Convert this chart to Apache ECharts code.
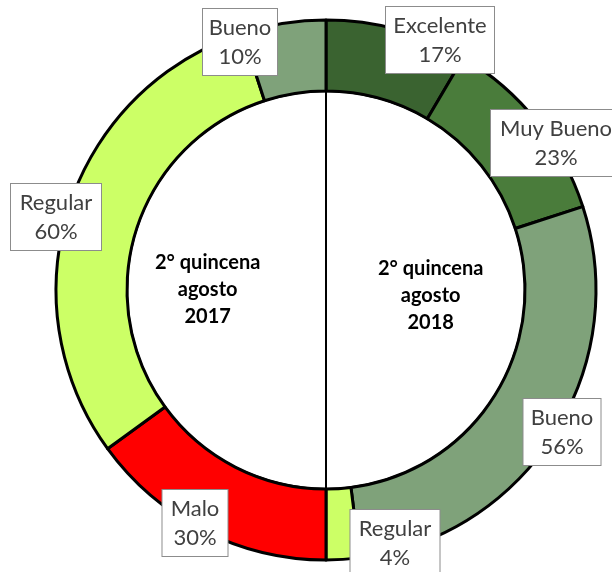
<!DOCTYPE html>
<html>
<head>
<meta charset="utf-8">
<script src="https://cdn.jsdelivr.net/npm/echarts@6/dist/echarts.min.js"></script>
<style>
  html, body { margin: 0; padding: 0; background: #fff; }
  #chart { width: 612px; height: 572px; }
</style>
</head>
<body>
<div id="chart"></div>
<script>
  // 2018 goes on the right half (clockwise from the top), 2017 on the left half
  const categories2018 = ['Excelente', 'Muy Bueno', 'Bueno', 'Regular']
  const values2018 = [17, 23, 56, 4]
  const categories2017 = ['Malo', 'Regular', 'Bueno']
  const values2017 = [30, 60, 10]
  const periodLabels = ['2° quincena\nagosto\n2017', '2° quincena\nagosto\n2018']

  const colorMap = {
    'Excelente': '#3a6330',
    'Muy Bueno': '#4a7c3b',
    'Bueno': '#7fa27a',
    'Regular': '#ccff66',
    'Malo': '#ff0000'
  }

  // label box centres and widths, same order as the slices
  const labelPos = [[440, 40], [556, 143], [562, 432], [395, 543], [195, 523], [56, 217], [240, 42]]
  const labelWidth = [108, 130, 77, 89, 65, 90, 74]

  const names = categories2018.concat(categories2017)
  const values = values2018.concat(values2017)

  const ringData = names.map((n, i) => ({
    name: n,
    value: values[i],
    itemStyle: { color: colorMap[n] },
    label: { width: labelWidth[i] }
  }))

  const chart = echarts.init(document.getElementById('chart'), null, { renderer: 'canvas' })

  chart.setOption({
    animation: false,
    series: [
      {
        type: 'pie',
        center: [326, 290],
        radius: [0, 199],
        startAngle: 90,
        silent: true,
        label: { show: false },
        labelLine: { show: false },
        itemStyle: { color: '#fff', borderColor: '#000', borderWidth: 2 },
        data: [{ value: 1, name: 'right' }, { value: 1, name: 'left' }]
      },
      {
        type: 'pie',
        center: [326, 290],
        radius: [199, 270],
        startAngle: 90,
        clockwise: true,
        avoidLabelOverlap: false,
        silent: true,
        itemStyle: { borderColor: '#000', borderWidth: 3 },
        label: {
          show: true,
          position: 'inside',
          formatter: '{b}\n{c}%',
          fontFamily: 'Lato',
          fontSize: 22,
          lineHeight: 29,
          color: '#404040',
          align: 'center',
          backgroundColor: '#fff',
          borderColor: '#8c8c8c',
          borderWidth: 1,
          padding: [4, 0, 4, 0]
        },
        labelLine: { show: false },
        labelLayout: function (params) {
          const p = labelPos[params.dataIndex]
          return { x: p[0], y: p[1], align: 'center', verticalAlign: 'middle' }
        },
        data: ringData
      }
    ],
    graphic: [
      {
        type: 'text',
        z: 100,
        left: 155,
        top: 249,
        style: {
          text: periodLabels[0],
          textAlign: 'center',
          font: 'bold 20px Lato',
          lineHeight: 27,
          fill: '#000'
        }
      },
      {
        type: 'text',
        z: 100,
        left: 378,
        top: 255,
        style: {
          text: periodLabels[1],
          textAlign: 'center',
          font: 'bold 20px Lato',
          lineHeight: 27,
          fill: '#000'
        }
      }
    ]
  })
</script>
</body>
</html>
